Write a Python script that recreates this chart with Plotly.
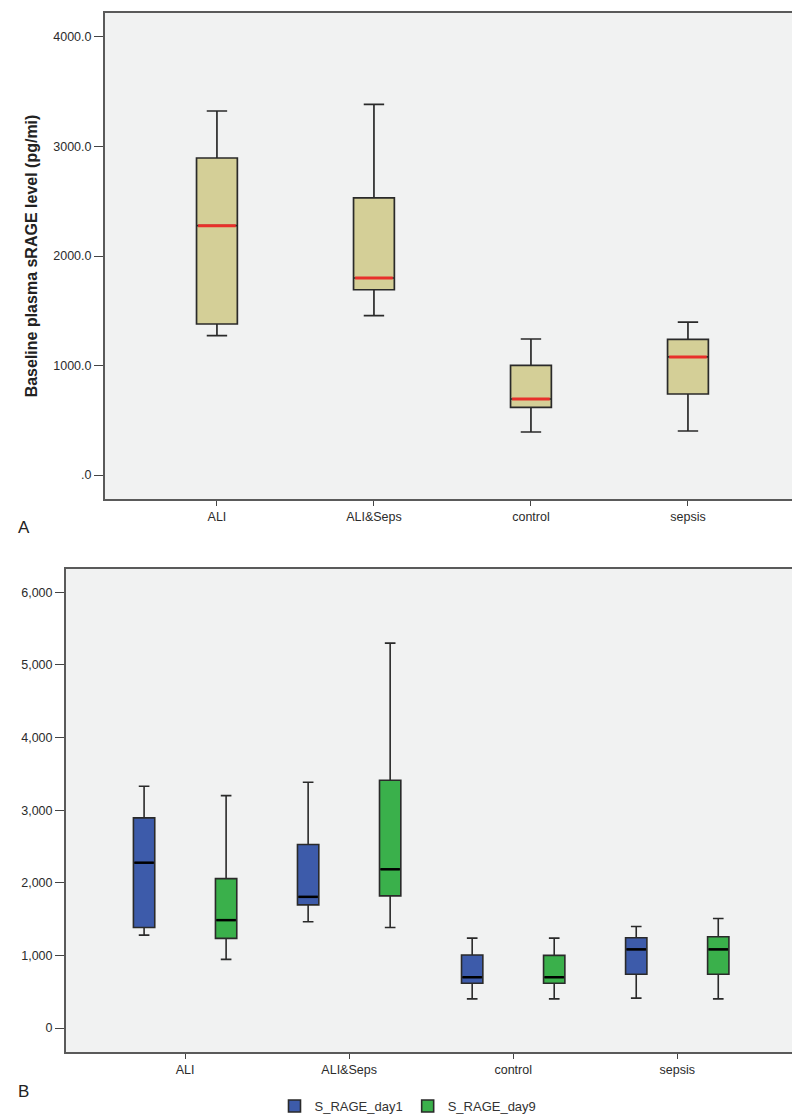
import plotly.graph_objects as go

categories = ["ALI", "ALI&Seps", "control", "sepsis"]

# Panel A: baseline plasma sRAGE
base_lower = [1272, 1455, 393, 402]
base_q1 = [1379, 1692, 618, 740]
base_median = [2277, 1799, 694, 1078]
base_q3 = [2895, 2530, 1002, 1239]
base_upper = [3324, 3385, 1242, 1397]

# Panel B: day1 and day9
d1_lower = [1280, 1464, 402, 412]
d1_q1 = [1385, 1697, 617, 741]
d1_median = [2277, 1807, 700, 1084]
d1_q3 = [2894, 2528, 1006, 1244]
d1_upper = [3329, 3384, 1239, 1399]

d9_lower = [946, 1385, 402, 402]
d9_q1 = [1235, 1820, 617, 741]
d9_median = [1486, 2186, 700, 1084]
d9_q3 = [2058, 3411, 1001, 1258]
d9_upper = [3200, 5300, 1239, 1509]

topA_ticks = [0, 1000, 2000, 3000, 4000]
topA_ticktext = [".0", "1000.0", "2000.0", "3000.0", "4000.0"]
botB_ticks = [0, 1000, 2000, 3000, 4000, 5000, 6000]
botB_ticktext = ["0", "1,000", "2,000", "3,000", "4,000", "5,000", "6,000"]

W, H = 800, 1119
FONT = "Liberation Sans, Arial, sans-serif"
TAN = "#D4CF97"
RED = "#E8302A"
BLUE = "#3D5BAA"
GREEN = "#3AB04B"
EDGE = "#2a2a2a"

fig = go.Figure()

wA = 0.26
for i, c in enumerate(categories):
    fig.add_trace(go.Box(
        x=[i], q1=[base_q1[i]], median=[base_median[i]], q3=[base_q3[i]],
        lowerfence=[base_lower[i]], upperfence=[base_upper[i]],
        width=wA, whiskerwidth=0.5, fillcolor=TAN,
        line=dict(color=EDGE, width=1.7), xaxis="x", yaxis="y",
        showlegend=False, hoverinfo="skip"))
    fig.add_trace(go.Scatter(
        x=[i - wA / 2 + 0.01, i + wA / 2 - 0.01], y=[base_median[i]] * 2,
        mode="lines", line=dict(color=RED, width=3),
        xaxis="x", yaxis="y", showlegend=False, hoverinfo="skip"))

wB = 0.13
off = 0.25
series = [
    ("S_RAGE_day1", BLUE, -off, d1_lower, d1_q1, d1_median, d1_q3, d1_upper),
    ("S_RAGE_day9", GREEN, off, d9_lower, d9_q1, d9_median, d9_q3, d9_upper),
]
for name, col, dx, lo, q1, med, q3, up in series:
    xs = [i + dx for i in range(len(categories))]
    fig.add_trace(go.Box(
        x=xs, q1=q1, median=med, q3=q3, lowerfence=lo, upperfence=up,
        width=wB, whiskerwidth=0.5, fillcolor=col, name=name,
        line=dict(color=EDGE, width=1.6), xaxis="x2", yaxis="y2",
        showlegend=True, legendgroup=name, hoverinfo="skip"))
    for i in range(len(categories)):
        fig.add_trace(go.Scatter(
            x=[xs[i] - wB / 2 + 0.006, xs[i] + wB / 2 - 0.006], y=[med[i]] * 2,
            mode="lines", line=dict(color="black", width=2.5),
            xaxis="x2", yaxis="y2", showlegend=False, hoverinfo="skip"))

axis_common = dict(
    showline=True, mirror=True, linecolor="#5a5a5a", linewidth=2,
    ticks="outside", tickcolor="#444", showgrid=False, zeroline=False,
    tickfont=dict(family=FONT, size=12.5, color="#2b2b2b"),
)

fig.update_layout(
    width=W, height=H,
    margin=dict(l=0, r=0, t=0, b=0),
    paper_bgcolor="white", plot_bgcolor="#F1F2F2",
    xaxis=dict(domain=[97 / W, 793 / W], range=[-0.713, 3.72],
               tickvals=list(range(len(categories))), ticktext=categories,
               ticklen=5, anchor="y", **axis_common),
    yaxis=dict(domain=[1 - 491 / H, 1 - 5 / H], range=[-219, 4219],
               tickvals=topA_ticks, ticktext=topA_ticktext, ticklen=9,
               anchor="x",
               title=dict(text="<b>Baseline plasma sRAGE level (pg/mi)</b>",
                          font=dict(family=FONT, size=16, color="#222"),
                          standoff=12),
               **axis_common),
    xaxis2=dict(domain=[58 / W, 789 / W], range=[-0.726, 3.73],
                tickvals=list(range(len(categories))), ticktext=categories,
                ticklen=5, anchor="y2", **axis_common),
    yaxis2=dict(domain=[1 - 1044 / H, 1 - 561 / H], range=[-329, 6320],
                tickvals=botB_ticks, ticktext=botB_ticktext, ticklen=9,
                anchor="x2", **axis_common),
    legend=dict(orientation="h", x=0.5, xanchor="center", y=1 - 1098 / H,
                yanchor="middle", font=dict(family=FONT, size=13, color="#333"),
                bgcolor="rgba(0,0,0,0)", itemwidth=30),
    annotations=[
        dict(text="A", x=8 / W, y=1 - 519 / H, xref="paper", yref="paper",
             showarrow=False, xanchor="left", yanchor="middle",
             font=dict(family=FONT, size=17, color="#222")),
        dict(text="B", x=8 / W, y=1 - 1083 / H, xref="paper", yref="paper",
             showarrow=False, xanchor="left", yanchor="middle",
             font=dict(family=FONT, size=17, color="#222")),
    ],
)

fig.write_html("out.html")
